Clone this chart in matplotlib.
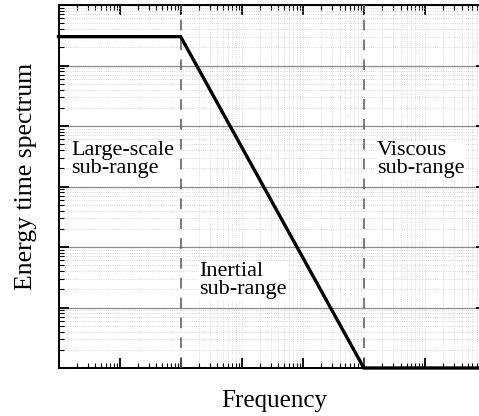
import matplotlib
matplotlib.use("Agg")
import matplotlib.pyplot as plt
import numpy as np

plt.rcParams['font.family'] = ['Liberation Serif', 'DejaVu Serif']

# Idealised energy spectrum: flat, power-law fall-off, then flat floor
freq = [1, 1e2, 1e5, 1e7]
energy = [3e5, 3e5, 1, 1]

# Boundaries between the sub-ranges
bounds = [1e2, 1e5]

labels = ["Large-scale\nsub-range", "Inertial\nsub-range", "Viscous\nsub-range"]
label_x = [10**0.21, 10**2.31, 10**5.21]
label_y = [10**3.22, 10**1.22, 10**3.22]

W, H = 479, 416
fig = plt.figure(figsize=(W / 100, H / 100), dpi=100)
ax = fig.add_axes([58.5 / W, (H - 368) / H, (486 - 58.5) / W, (368 - 5) / H])

ax.set_xscale('log')
ax.set_yscale('log')
ax.set_xlim(1, 1e7)
ax.set_ylim(1, 1e6)

# grid: solid horizontal majors, dotted minors
ax.grid(which='major', axis='y', color='#8a8a8a', lw=0.9, zorder=1)
ax.grid(which='minor', axis='y', color='#c8c8c8', lw=0.6, ls=':', zorder=1)
ax.grid(False, which='both', axis='x')
for dec in range(2, 7):
    for m in range(1, 10):
        xv = m * 10.0**dec
        if xv in bounds:
            continue
        ax.axvline(xv, color='#d0d0d0', lw=0.6, ls=':', zorder=1)

for b in bounds:
    ax.axvline(b, color='#555555', lw=1.1, dashes=(7, 6), zorder=3)

ax.plot(freq, energy, color='black', lw=2.4, solid_joinstyle='miter',
        clip_on=False, zorder=4)

for s, x, y in zip(labels, label_x, label_y):
    ax.text(x, y, s, fontsize=16, ha='left', va='baseline', linespacing=0.92,
            bbox=dict(facecolor='white', edgecolor='none', pad=0.5), zorder=2.5)

ax.tick_params(which='both', direction='in', top=True, right=True,
               labelbottom=False, labelleft=False)
ax.tick_params(which='major', length=7, width=1.3)
ax.tick_params(which='minor', length=3.5, width=0.8)
for sp in ax.spines.values():
    sp.set_linewidth(1.4)

fig.text(274 / W, (H - 406.7) / H, "Frequency", fontsize=18,
         ha='center', va='baseline')
fig.text(31.7 / W, (H - 176.7) / H, "Energy time spectrum", fontsize=18.5,
         ha='center', va='baseline', rotation=90, rotation_mode='anchor')

fig.savefig("out.png", dpi=100)
